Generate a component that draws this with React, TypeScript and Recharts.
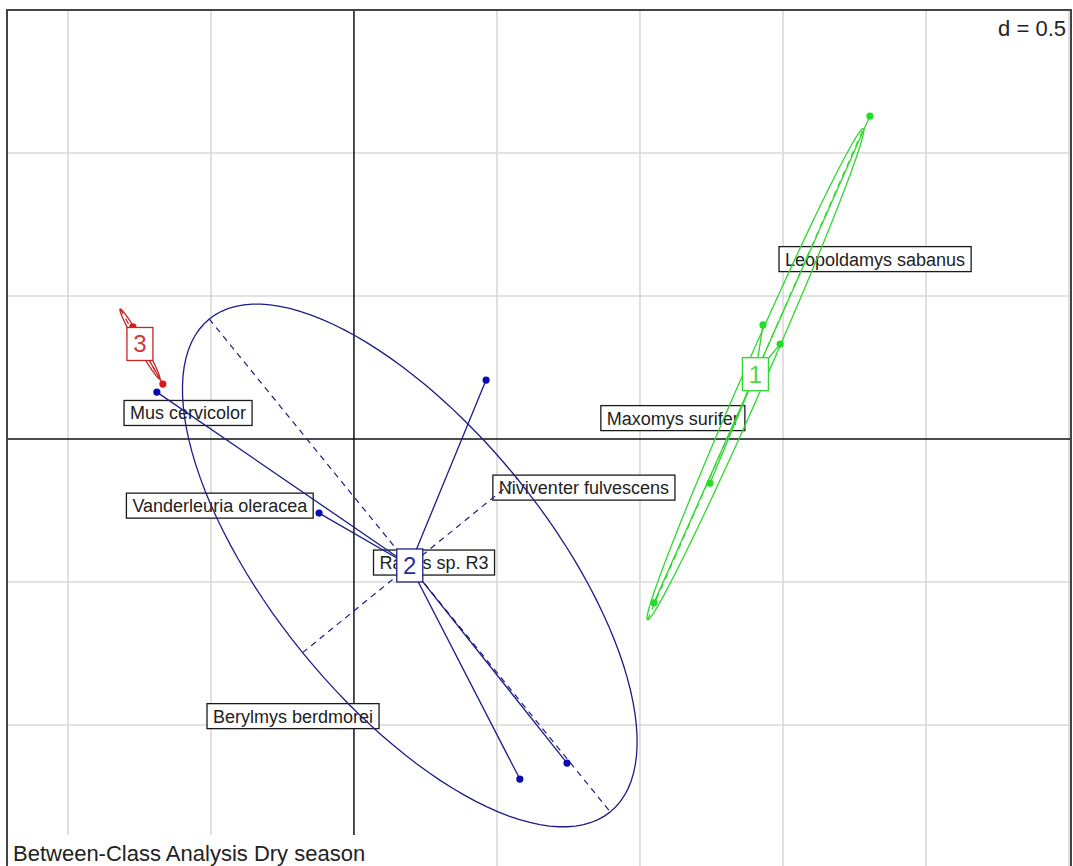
import React from "react";
import { ScatterChart, Scatter, XAxis, YAxis, ReferenceLine, ReferenceArea } from "recharts";

const FONT = '"Liberation Sans", Arial, Helvetica, sans-serif';

// site scores on the two between-class axes, with the class of each site
const siteX = [1.804, 1.43, 1.49, 1.245, 1.049, -0.689, -0.122, 0.462, 0.58, 0.745, -0.668, -0.773, -0.783, -0.769];
const siteY = [1.129, 0.399, 0.332, -0.154, -0.573, 0.164, -0.259, 0.206, -1.189, -1.133, 0.192, 0.392, 0.367, 0.378];
const siteClass = ["1", "1", "1", "1", "1", "2", "2", "2", "2", "2", "3", "3", "3", "3"];

const classNames = ["1", "2", "3"];
const classLine = ["#2ed82e", "#1c1c86", "#c82424"];
const classDot = ["#22dd22", "#0a0ab0", "#d41c1c"];
const classText = ["#4cd84c", "#2a2aa0", "#cc3a3a"];

// species (column) coordinates
const speciesNames = [
  "Mus cervicolor",
  "Vanderleuria oleracea",
  "Rattus sp. R3",
  "Niviventer fulvescens",
  "Maxomys surifer",
  "Leopoldamys sabanus",
  "Berylmys berdmorei",
];
const speciesX = [-0.58, -0.469, 0.28, 0.804, 1.115, 1.822, -0.213];
const speciesY = [0.091, -0.233, -0.432, -0.17, 0.073, 0.629, -0.969];

const gridX = [-1, -0.5, 0.5, 1, 1.5, 2, 2.5];
const gridY = [-1.5, -1, -0.5, 0.5, 1, 1.5];

const X_DOMAIN: [number, number] = [-1.213, 2.507];
const Y_DOMAIN: [number, number] = [-1.521, 1.5];
const CELLIPSE = 1.5;

let measureCtx: CanvasRenderingContext2D | null = null;
const textWidth = (s: string, size: number) => {
  if (!measureCtx) measureCtx = document.createElement("canvas").getContext("2d");
  if (!measureCtx) return s.length * size * 0.5;
  measureCtx.font = `${size}px ${FONT}`;
  return measureCtx.measureText(s).width;
};

// mean, 1.5-sd ellipse outline and its two axes for one class
const classGeometry = (cls: string) => {
  const idx = siteClass.map((c, i) => (c === cls ? i : -1)).filter((i) => i >= 0);
  const xs = idx.map((i) => siteX[i]);
  const ys = idx.map((i) => siteY[i]);
  const n = xs.length;
  const mx = xs.reduce((a, b) => a + b, 0) / n;
  const my = ys.reduce((a, b) => a + b, 0) / n;
  let vx = 0, vy = 0, cxy = 0;
  for (let k = 0; k < n; k++) {
    vx += (xs[k] - mx) ** 2 / n;
    vy += (ys[k] - my) ** 2 / n;
    cxy += ((xs[k] - mx) * (ys[k] - my)) / n;
  }
  const t = (vx + vy) / 2;
  const d = Math.sqrt(((vx - vy) / 2) ** 2 + cxy ** 2);
  const a = CELLIPSE * Math.sqrt(t + d);
  const b = CELLIPSE * Math.sqrt(Math.max(t - d, 0));
  const th = 0.5 * Math.atan2(2 * cxy, vx - vy);
  const c = Math.cos(th), s = Math.sin(th);
  const outline = [];
  for (let k = 0; k <= 120; k++) {
    const u = (2 * Math.PI * k) / 120;
    outline.push({
      x: mx + a * Math.cos(u) * c - b * Math.sin(u) * s,
      y: my + a * Math.cos(u) * s + b * Math.sin(u) * c,
    });
  }
  return {
    mx,
    my,
    points: xs.map((x, k) => ({ x, y: ys[k] })),
    outline,
    major: [{ x: mx - a * c, y: my - a * s }, { x: mx + a * c, y: my + a * s }],
    minor: [{ x: mx + b * s, y: my - b * c }, { x: mx - b * s, y: my + b * c }],
  };
};

const groups = classNames.map((cls) => classGeometry(cls));
const speciesData = speciesNames.map((name, i) => ({ name, x: speciesX[i], y: speciesY[i] }));

const SpeciesBox = (props: any) => {
  const { cx, cy, payload } = props;
  const w = textWidth(payload.name, 18) + 12;
  return (
    <g>
      <rect x={cx - w / 2} y={cy - 12.5} width={w} height={25} fill="#fff" stroke="#1a1a1a" strokeWidth={1.3} />
      <text x={cx} y={cy + 6.5} textAnchor="middle" fontSize={18} fontFamily={FONT} fill="#222">
        {payload.name}
      </text>
    </g>
  );
};

const classBox = (i: number) => (props: any) => {
  const { cx, cy } = props;
  return (
    <g>
      <rect x={cx - 13} y={cy - 16.5} width={26} height={33} fill="#fff" stroke={classLine[i]} strokeWidth={1.3} />
      <text x={cx} y={cy + 8.5} textAnchor="middle" fontSize={24} fontFamily={FONT} fill={classText[i]}>
        {classNames[i]}
      </text>
    </g>
  );
};

const dot = (i: number) => (props: any) => <circle cx={props.cx} cy={props.cy} r={3.6} fill={classDot[i]} />;
const noShape = () => <g />;

export default function App() {
  return (
    <div style={{ position: "absolute", left: 0, top: 0, width: 1073, height: 866, overflow: "hidden", background: "#fff" }}>
      <ScatterChart width={1073} height={880} margin={{ top: 10, right: 2, bottom: 6, left: 7 }}>
        <XAxis type="number" dataKey="x" domain={X_DOMAIN} allowDataOverflow hide />
        <YAxis type="number" dataKey="y" domain={Y_DOMAIN} allowDataOverflow hide />

        {gridX.map((v) => (
          <ReferenceLine key={`gx${v}`} x={v} stroke="#d8d8d8" strokeWidth={1.6} zIndex={10} ifOverflow="visible" />
        ))}
        {gridY.map((v) => (
          <ReferenceLine key={`gy${v}`} y={v} stroke="#d8d8d8" strokeWidth={1.6} zIndex={10} ifOverflow="visible" />
        ))}
        <ReferenceLine x={0} stroke="#111" strokeWidth={1.5} zIndex={20} />
        <ReferenceLine y={0} stroke="#111" strokeWidth={1.5} zIndex={20} />

        <Scatter data={speciesData} shape={SpeciesBox} isAnimationActive={false} zIndex={30} />

        {groups.map((g, i) => (
          <Scatter
            key={`ell${i}`}
            data={g.outline}
            line={{ stroke: classLine[i], strokeWidth: 1.3 }}
            shape={noShape}
            isAnimationActive={false}
            zIndex={40}
          />
        ))}
        {groups.map((g, i) => [
          <ReferenceLine key={`maj${i}`} segment={g.major} stroke={classLine[i]} strokeWidth={1.2} strokeDasharray="6 5" zIndex={50} ifOverflow="visible" />,
          <ReferenceLine key={`min${i}`} segment={g.minor} stroke={classLine[i]} strokeWidth={1.2} strokeDasharray="6 5" zIndex={50} ifOverflow="visible" />,
          ...g.points.map((p, k) => (
            <ReferenceLine
              key={`st${i}-${k}`}
              segment={[{ x: g.mx, y: g.my }, p]}
              stroke={classLine[i]}
              strokeWidth={1.3}
              zIndex={50}
              ifOverflow="visible"
            />
          )),
        ])}
        {groups.map((g, i) => (
          <Scatter key={`pts${i}`} data={g.points} shape={dot(i)} isAnimationActive={false} zIndex={60} />
        ))}
        {groups.map((g, i) => (
          <Scatter key={`lab${i}`} data={[{ x: g.mx, y: g.my }]} shape={classBox(i)} isAnimationActive={false} zIndex={70} />
        ))}

        <ReferenceArea
          x1={X_DOMAIN[0]}
          x2={X_DOMAIN[1]}
          y1={Y_DOMAIN[0]}
          y2={Y_DOMAIN[1]}
          fill="none"
          fillOpacity={0}
          stroke="#444"
          strokeWidth={2}
          ifOverflow="visible"
          zIndex={80}
        />
      </ScatterChart>

      <div
        style={{
          position: "absolute",
          left: 990,
          top: 11,
          width: 78,
          height: 32,
          background: "#fff",
          fontFamily: FONT,
          fontSize: 22,
          lineHeight: "22px",
          color: "#222",
          textAlign: "right",
          boxSizing: "border-box",
          paddingTop: 7,
          paddingRight: 2,
        }}
      >
        d = 0.5
      </div>
      <div
        style={{
          position: "absolute",
          left: 8,
          top: 835,
          width: 362,
          height: 40,
          background: "#fff",
          fontFamily: FONT,
          fontSize: 22,
          lineHeight: "22px",
          color: "#222",
          boxSizing: "border-box",
          paddingTop: 8,
          paddingLeft: 5,
          whiteSpace: "nowrap",
        }}
      >
        Between-Class Analysis Dry season
      </div>
    </div>
  );
}
